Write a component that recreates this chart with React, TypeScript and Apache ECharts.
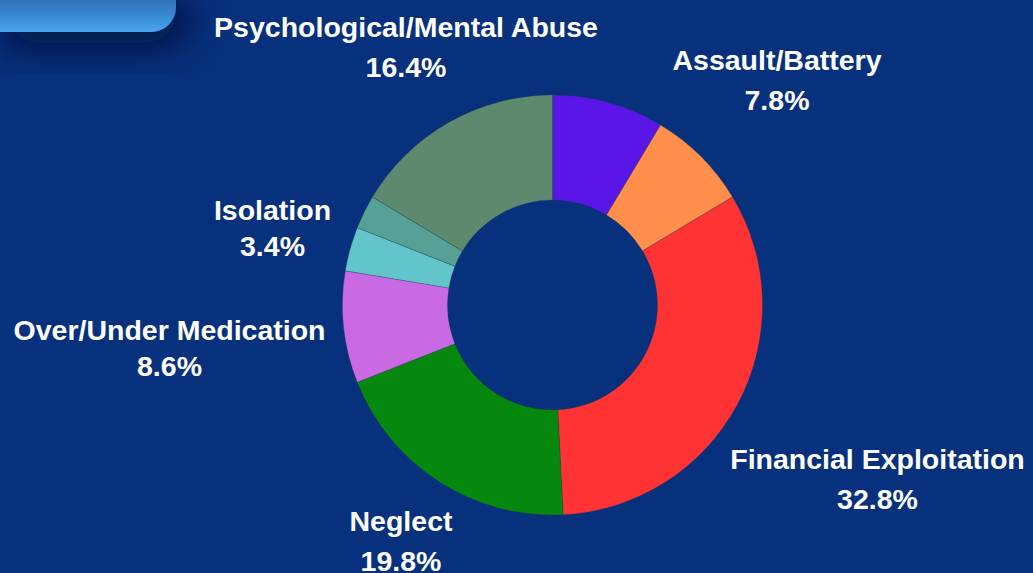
import React, { useEffect, useRef } from 'react';
import * as echarts from 'echarts';

// Slices, clockwise from 12 o'clock
const categories = [
  'Other',
  'Assault/Battery',
  'Financial Exploitation',
  'Neglect',
  'Over/Under Medication',
  'Isolation',
  'Other Abuse',
  'Psychological/Mental Abuse',
];
const values = [8.6, 7.8, 32.8, 19.8, 8.6, 3.4, 2.6, 16.4];
const labelVisible = [false, true, true, true, true, true, false, true];

// styling / layout (kept apart from the data)
const sliceColors = ['#5a16e6', '#ff8f4a', '#ff3333', '#06870e', '#c96ae3', '#63c5cc', '#57a095', '#5d8a6e'];
const labelOffsets: [number, number][] = [
  [0, 0],
  [224.5, -225],
  [325, 173.5],
  [-151.5, 236],
  [-383, 42.5],
  [-280, -77.5],
  [0, 0],
  [-146.5, -258],
];
const labelLineHeights = [40, 40, 40, 40, 36, 36, 40, 40];
const CX = 552.5;
const CY = 305;

export default function App() {
  const ref = useRef<HTMLDivElement>(null);
  useEffect(() => {
    if (!ref.current) return;
    const chart = echarts.init(ref.current, undefined, { renderer: 'svg' });
    const data = categories.map((name, i) => ({
      name,
      value: values[i],
      itemStyle: { color: sliceColors[i] },
      label: { show: labelVisible[i], lineHeight: labelLineHeights[i] },
    }));
    chart.setOption({
      animation: false,
      backgroundColor: '#07317c',
      graphic: [
        {
          type: 'rect',
          x: -10,
          y: -10,
          shape: { width: 186, height: 42, r: [0, 0, 25, 0] },
          style: {
            fill: new echarts.graphic.LinearGradient(0, 0, 0, 1, [
              { offset: 0, color: '#2b66a9' },
              { offset: 0.6, color: '#3888d2' },
              { offset: 1, color: '#4aa6f0' },
            ]),
            shadowBlur: 40,
            shadowColor: 'rgba(2,16,48,0.9)',
            shadowOffsetX: 12,
            shadowOffsetY: 12,
          },
          z: 10,
        },
      ],
      series: [
        {
          type: 'pie',
          center: [CX, CY],
          radius: [105, 210],
          startAngle: 90,
          clockwise: true,
          avoidLabelOverlap: false,
          silent: true,
          itemStyle: { borderColor: 'rgba(30,60,80,0.45)', borderWidth: 0.6 },
          label: {
            show: true,
            position: 'outside',
            color: '#ffffff',
            fontFamily: '"Liberation Sans", Arial, sans-serif',
            fontWeight: 'bold',
            fontSize: 28.5,
            lineHeight: 40,
            formatter: (p: any) => `${p.name}\n${Number(p.value).toFixed(1)}%`,
          },
          labelLine: { show: false },
          labelLayout: (params: any) => {
            const off = labelOffsets[params.dataIndex] || [0, 0];
            return { x: CX + off[0], y: CY + off[1], align: 'center', verticalAlign: 'middle' };
          },
          emphasis: { disabled: true },
          data,
        },
      ],
    });
    return () => chart.dispose();
  }, []);
  return (
    <div
      ref={ref}
      style={{ position: 'fixed', left: 0, top: 0, width: 1033, height: 573 }}
    />
  );
}
